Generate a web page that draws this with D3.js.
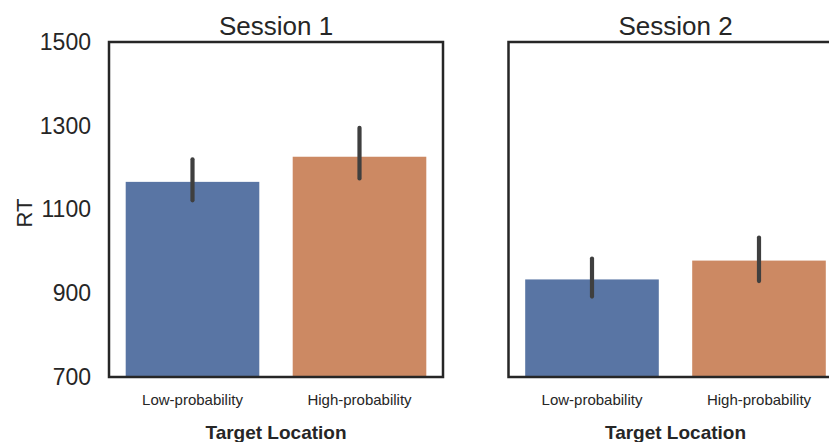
<!DOCTYPE html>
<html>
<head>
<meta charset="utf-8">
<script src="https://cdn.jsdelivr.net/npm/d3@7"></script>
<style>
  html, body { margin: 0; padding: 0; background: #fff; overflow: hidden; }
  svg { display: block; font-family: "Liberation Sans", Arial, sans-serif; }
</style>
</head>
<body>
<svg id="chart" width="829" height="442"></svg>
<script>
// Data
const sessions = ["Session 1", "Session 2"];
const locations = ["Low-probability", "High-probability"];
const meanRT = [[1166, 1226], [933, 978]];
const ciLow = [[1122, 1174], [892, 929]];
const ciHigh = [[1220, 1295], [983, 1033]];
const yTicks = [700, 900, 1100, 1300, 1500];
const barColors = ["#5975a4", "#cc8963"];

const svg = d3.select("#chart");
const panelW = 334, plotTop = 42, plotBottom = 377;
const panelLeft = [109, 508.5];

const y = d3.scaleLinear().domain([700, 1500]).range([plotBottom, plotTop]);

sessions.forEach((title, si) => {
  const x0 = panelLeft[si];
  const x = d3.scaleBand().domain(locations)
    .range([x0, x0 + panelW]).paddingInner(0.2).paddingOuter(0.1);
  const g = svg.append("g");

  // bars
  g.selectAll("rect.bar")
    .data(locations)
    .join("rect")
    .attr("class", "bar")
    .attr("x", d => x(d))
    .attr("width", x.bandwidth())
    .attr("y", (d, i) => y(meanRT[si][i]))
    .attr("height", (d, i) => y(700) - y(meanRT[si][i]))
    .attr("fill", (d, i) => barColors[i]);

  // error bars (95% CI)
  g.selectAll("line.err")
    .data(locations)
    .join("line")
    .attr("class", "err")
    .attr("x1", d => x(d) + x.bandwidth() / 2)
    .attr("x2", d => x(d) + x.bandwidth() / 2)
    .attr("y1", (d, i) => y(ciLow[si][i]))
    .attr("y2", (d, i) => y(ciHigh[si][i]))
    .attr("stroke", "#3f3f3f")
    .attr("stroke-width", 4.2)
    .attr("stroke-linecap", "round");

  // frame
  g.append("rect")
    .attr("x", x0).attr("y", plotTop)
    .attr("width", panelW).attr("height", plotBottom - plotTop)
    .attr("fill", "none").attr("stroke", "#262626").attr("stroke-width", 2.5);

  // x tick labels
  const xAxis = g.append("g")
    .attr("transform", `translate(0,${plotBottom})`)
    .call(d3.axisBottom(x).tickSize(0).tickPadding(17));
  xAxis.select(".domain").remove();
  xAxis.selectAll("text")
    .attr("font-size", 15).attr("fill", "#262626")
    .attr("font-family", "'Liberation Sans', Arial, sans-serif");

  // y tick labels only on first panel (shared y)
  if (si === 0) {
    const yAxis = g.append("g")
      .attr("transform", `translate(${x0},0)`)
      .call(d3.axisLeft(y).tickValues(yTicks).tickFormat(d3.format("d"))
        .tickSize(0).tickPadding(18));
    yAxis.select(".domain").remove();
    yAxis.selectAll("text")
      .attr("font-size", 23).attr("fill", "#262626")
      .attr("font-family", "'Liberation Sans', Arial, sans-serif");

    svg.append("text")
      .attr("transform", `translate(32,213) rotate(-90)`)
      .attr("text-anchor", "middle")
      .attr("font-size", 22).attr("fill", "#262626")
      .text("RT");
  }

  // title
  svg.append("text")
    .attr("x", x0 + panelW / 2).attr("y", 35)
    .attr("text-anchor", "middle")
    .attr("font-size", 26).attr("fill", "#262626")
    .text(title);

  // x label
  svg.append("text")
    .attr("x", x0 + panelW / 2).attr("y", 439)
    .attr("text-anchor", "middle")
    .attr("font-size", 19).attr("font-weight", "bold").attr("fill", "#262626")
    .text("Target Location");
});
</script>
</body>
</html>
